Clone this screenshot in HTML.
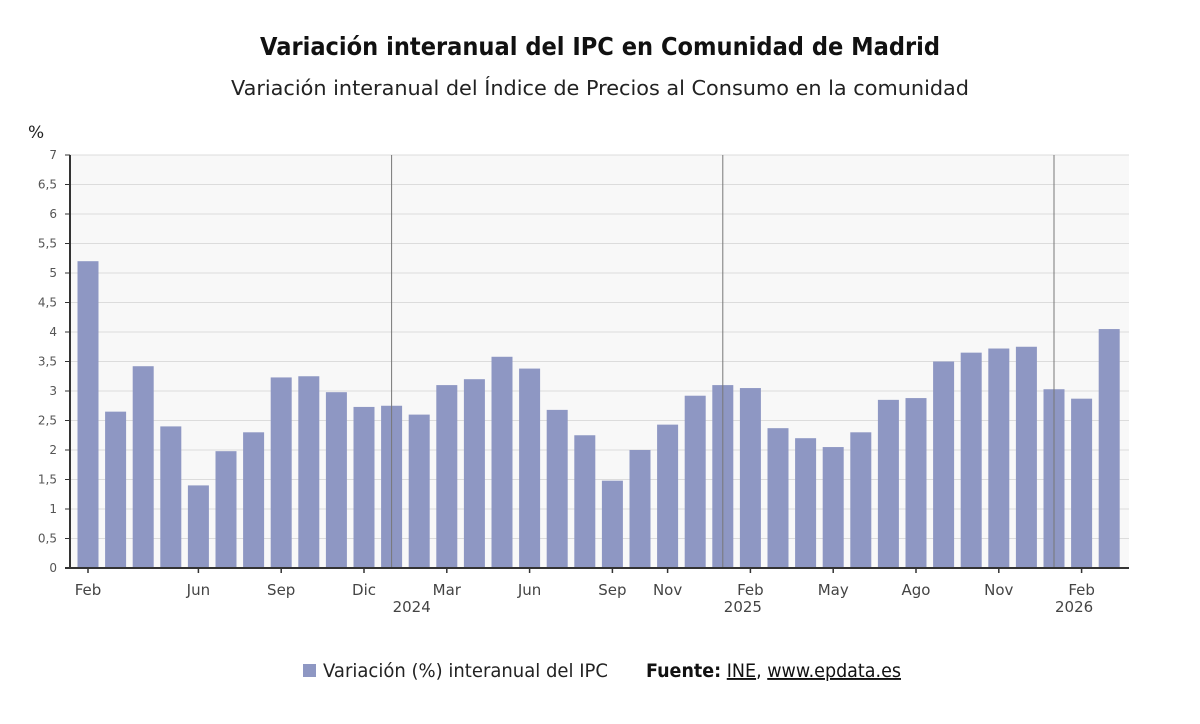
<!DOCTYPE html>
<html><head><meta charset="utf-8"><style>
body{margin:0;background:#fff;width:1200px;height:720px;overflow:hidden;font-family:"DejaVu Sans","Liberation Sans",sans-serif;}
</style></head><body>
<svg id="chart" width="1200" height="720">
<text x="260" y="55" textLength="680" lengthAdjust="spacingAndGlyphs" font-size="25" font-weight="bold" fill="#111">Variación interanual del IPC en Comunidad de Madrid</text>
<text x="231" y="95" textLength="738" lengthAdjust="spacingAndGlyphs" font-size="20" fill="#222">Variación interanual del Índice de Precios al Consumo en la comunidad</text>
<text x="28" y="138" font-size="17" fill="#222">%</text>
<rect x="70" y="155" width="1059" height="413" fill="#f8f8f8"/>
<g id="grid"></g><g id="bars"></g><g id="axes"></g>
<g>
<rect x="303" y="664" width="13" height="13" fill="#8e97c3"/>
<text x="323" y="677" textLength="285" lengthAdjust="spacingAndGlyphs" font-size="19" fill="#222">Variación (%) interanual del IPC</text>
<text x="646" y="677" textLength="255" lengthAdjust="spacingAndGlyphs" font-size="19" fill="#111"><tspan font-weight="bold">Fuente:</tspan> <tspan text-decoration="underline">INE</tspan>, <tspan text-decoration="underline">www.epdata.es</tspan></text>
</g>
</svg>
<script>
const values=[5.2,2.65,3.42,2.4,1.4,1.98,2.3,3.23,3.25,2.98,2.73,2.75,2.6,3.1,3.2,3.58,3.38,2.68,2.25,1.48,2.0,2.43,2.92,3.1,3.05,2.37,2.2,2.05,2.3,2.85,2.88,3.5,3.65,3.72,3.75,3.03,2.87,4.05];
const yTicks=[0,0.5,1,1.5,2,2.5,3,3.5,4,4.5,5,5.5,6,6.5,7];
const monthLabelIdx=[0,4,7,10,13,16,19,21,24,27,30,33,36];
const monthLabels=["Feb","Jun","Sep","Dic","Mar","Jun","Sep","Nov","Feb","May","Ago","Nov","Feb"];
const yearIdx=[11,23,35];
const yearLabels=["2024","2025","2026"];
const NS="http://www.w3.org/2000/svg";
const y=v=>568-v*59;
const x=i=>88+i*27.6;
function mk(tag,attrs,parent){const e=document.createElementNS(NS,tag);for(const k in attrs)e.setAttribute(k,attrs[k]);document.getElementById(parent).appendChild(e);return e;}
yTicks.forEach(t=>{
 const g=mk('line',{x1:70,x2:1129,y1:y(t),y2:y(t),stroke:'#dcdcdc','stroke-width':1},'grid');
 
 
 const tk=mk('line',{x1:65,x2:70,y1:y(t),y2:y(t),stroke:'#333','stroke-width':1},'axes');
 
 
 const l=mk('text',{x:57,y:y(t)+4,'text-anchor':'end','font-size':12,fill:'#555'},'axes');
 l.textContent=String(t).replace('.',',');
 
 
});
values.forEach((v,i)=>{
 const b=mk('rect',{x:x(i)-10.5,y:y(v),width:21,height:568-y(v),fill:'#8e97c3'},'bars');
 
 
});
yearIdx.forEach((idx,k)=>{
 const l=mk('line',{x1:x(idx),x2:x(idx),y1:155,y2:568,stroke:'#777','stroke-width':1},'axes');
 
 
 const t=mk('text',{x:x(idx)+1,y:612,'font-size':15,fill:'#444'},'axes');
 t.textContent=yearLabels[k];
 
 
});
monthLabelIdx.forEach((idx,k)=>{
 const tk=mk('line',{x1:x(idx),x2:x(idx),y1:568,y2:573,stroke:'#333','stroke-width':1.5},'axes');
 
 
 const t=mk('text',{x:x(idx),y:595,'text-anchor':'middle','font-size':15,fill:'#444'},'axes');
 t.textContent=monthLabels[k];
 
 
});
const ya=mk('line',{x1:70,x2:70,y1:155,y2:569,stroke:'#333','stroke-width':2},'axes');


const xa=mk('line',{x1:65,x2:1129,y1:568,y2:568,stroke:'#333','stroke-width':2},'axes');


</script>
</body></html>
